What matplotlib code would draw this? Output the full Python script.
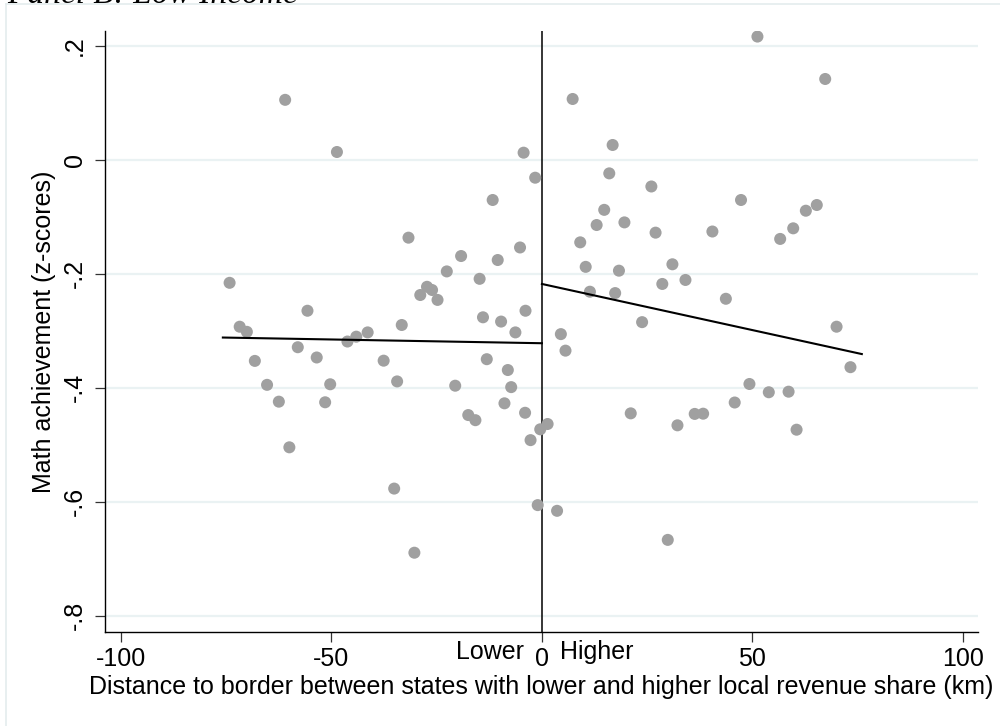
import matplotlib
matplotlib.use("Agg")
import matplotlib.pyplot as plt
from matplotlib.lines import Line2D
from matplotlib.transforms import blended_transform_factory, offset_copy

plt.rcParams['font.family'] = ['Liberation Sans', 'DejaVu Sans']

# ---- data ----
left_x = [-61.0, -48.7, -4.35, -1.6, -11.7, -31.7, -5.2, -19.2, -10.5, -22.6,
          -14.8, -74.2, -27.3, -26.1, -28.9, -24.8, -55.7, -3.9, -71.8, -70.1,
          -33.3, -14.0, -9.7, -6.3, -41.4, -44.1, -46.2, -58.0, -53.5, -68.2,
          -37.6, -13.1, -8.1, -65.3, -50.3, -34.4, -20.6, -7.3, -62.5, -51.5,
          -8.9, -4.0, -17.5, -15.8, -0.4, -2.7, -60.0, -35.1, -1.0, -30.3]
left_y = [0.105, 0.0135, 0.0123, -0.0316, -0.0707, -0.1368, -0.154, -0.169, -0.176, -0.196,
          -0.209, -0.216, -0.223, -0.2286, -0.2374, -0.246, -0.265, -0.265, -0.293, -0.302,
          -0.290, -0.2765, -0.284, -0.303, -0.303, -0.3105, -0.319, -0.329, -0.347, -0.353,
          -0.3526, -0.350, -0.369, -0.395, -0.394, -0.389, -0.3965, -0.399, -0.4245, -0.4256,
          -0.4274, -0.444, -0.448, -0.457, -0.473, -0.492, -0.5046, -0.577, -0.606, -0.6895]

right_x = [7.3, 16.8, 16.0, 26.0, 47.3, 65.3, 62.7, 14.8, 19.6, 13.0,
           59.7, 40.5, 27.0, 56.6, 9.1, 31.0, 10.4, 18.3, 67.3, 51.2,
           28.6, 34.1, 11.4, 17.4, 43.7, 23.8, 4.5, 5.6, 70.0, 73.3,
           49.3, 53.9, 58.6, 45.8, 21.1, 36.3, 38.3, 32.2, 60.5, 1.35,
           3.6, 29.9]
right_y = [0.1065, 0.0258, -0.024, -0.047, -0.0707, -0.0795, -0.0895, -0.088, -0.110, -0.1146,
           -0.1204, -0.126, -0.128, -0.139, -0.145, -0.1835, -0.188, -0.1947, 0.1416, 0.216,
           -0.218, -0.211, -0.2316, -0.234, -0.244, -0.285, -0.306, -0.335, -0.293, -0.364,
           -0.3935, -0.408, -0.407, -0.426, -0.445, -0.446, -0.4456, -0.466, -0.4737, -0.4637,
           -0.616, -0.667]

left_fit_x = [-75.8, 0.0]
left_fit_y = [-0.312, -0.322]
right_fit_x = [0.0, 76.0]
right_fit_y = [-0.218, -0.341]

xticks = [-100, -50, 0, 50, 100]
xtick_labels = ['-100', '-50', '0', '50', '100']
yticks = [0.2, 0.0, -0.2, -0.4, -0.6, -0.8]
ytick_labels = ['.2', '0', '-.2', '-.4', '-.6', '-.8']

title_text = 'Panel B: Low Income'
xlabel = 'Distance to border between states with lower and higher local revenue share (km)'
ylabel = 'Math achievement (z-scores)'

# ---- figure ----
W, H = 1000, 726
fig = plt.figure(figsize=(W / 100, H / 100), dpi=100)
fig.patch.set_facecolor('white')

# outer light frame (partially cropped in reference)
frame_col = '#e4ecee'
fig.add_artist(Line2D([6 / W, 1.0], [1 - 4 / H, 1 - 4 / H], color=frame_col, lw=1.2,
                      transform=fig.transFigure))
fig.add_artist(Line2D([6 / W, 6 / W], [0.0, 1 - 4 / H], color=frame_col, lw=1.2,
                      transform=fig.transFigure))

# clipped panel title at the very top
fig.text(7 / W, 1 - 3 / H, title_text, fontsize=24, family=['Liberation Serif', 'DejaVu Serif'],
         style='italic', ha='left', va='baseline', color='black')

ax = fig.add_axes([105 / W, 1 - 632 / H, (978 - 105) / W, (632 - 30.7) / H])
ax.set_xlim(-103.8, 103.6)
ax.set_ylim(-0.8286, 0.2263)

for s in ['top', 'right']:
    ax.spines[s].set_visible(False)
for s in ['left', 'bottom']:
    ax.spines[s].set_linewidth(1.0)
    ax.spines[s].set_color('black')

ax.yaxis.grid(True, color='#eaf2f3', lw=1.6)
ax.set_axisbelow(True)

FS = 18
ax.set_xticks(xticks, xtick_labels)
ax.set_yticks(yticks, ytick_labels, rotation=90, va='center')
ax.tick_params(axis='both', direction='out', length=7, width=0.9, color='#333333',
               labelsize=FS, labelcolor='black')
ax.tick_params(axis='x', pad=4)
ax.tick_params(axis='y', pad=6)

ax.axvline(0, color='black', lw=1.1, zorder=2)

ax.scatter(left_x, left_y, s=75, color='#a0a0a0', edgecolors='none', zorder=3)
ax.scatter(right_x, right_y, s=75, color='#a0a0a0', edgecolors='none', zorder=3)

ax.plot(left_fit_x, left_fit_y, color='black', lw=1.5, zorder=4)
ax.plot(right_fit_x, right_fit_y, color='black', lw=1.5, zorder=4)

# Lower / Higher labels beside the 0 tick
tr = blended_transform_factory(ax.transData, fig.transFigure)
ax.text(0, 1 - 652 / H, 'Lower', transform=offset_copy(tr, fig=fig, x=-18, y=0, units='dots'),
        ha='right', va='center', fontsize=FS, clip_on=False)
ax.text(0, 1 - 652 / H, 'Higher', transform=offset_copy(tr, fig=fig, x=18, y=0, units='dots'),
        ha='left', va='center', fontsize=FS, clip_on=False)

ax.set_xlabel(xlabel, fontsize=FS, labelpad=3)
ax.set_ylabel(ylabel, fontsize=FS, labelpad=5)

fig.savefig('out.png', dpi=100, facecolor='white')
